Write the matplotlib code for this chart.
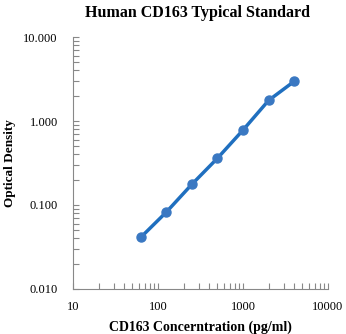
import numpy as np
import matplotlib
matplotlib.use('Agg')
import matplotlib.pyplot as plt
from matplotlib.ticker import FixedLocator, LogLocator, NullFormatter

# DATA
conc = [62.5, 125, 250, 500, 1000, 2000, 4000]
od = [0.041, 0.082, 0.176, 0.36, 0.78, 1.76, 2.97]
xticks = [10, 100, 1000, 10000]
yticks = [0.01, 0.1, 1, 10]
ylabels = ['0.010', '0.100', '1.000', '10.000']

plt.rcParams['font.family'] = ['Liberation Serif', 'DejaVu Serif']

fig = plt.figure(figsize=(3.46, 3.34), dpi=100)
ax = fig.add_axes([0.211, 0.135, 0.737, 0.754])

ax.plot(conc, od, color='#1f6fbf', lw=2.5, zorder=2)
ax.plot(conc, od, 'o', color='#3a78c2', ms=6.5, zorder=3)

ax.set_xscale('log')
ax.set_yscale('log')
ax.set_xlim(10, 10000)
ax.set_ylim(0.01, 10)

ax.xaxis.set_major_locator(FixedLocator(xticks))
ax.set_xticklabels([str(t) for t in xticks])
ax.yaxis.set_major_locator(FixedLocator(yticks))
ax.set_yticklabels(ylabels)
for a in (ax.xaxis, ax.yaxis):
  a.set_minor_locator(LogLocator(base=10, subs=np.arange(2, 10)))
  a.set_minor_formatter(NullFormatter())

ax.tick_params(which='both', direction='in', color='#888888', labelsize=9, width=0.8, length=4)
ax.tick_params(axis='x', pad=9)
ax.tick_params(axis='y', pad=11)

for s in ['top', 'right']:
  ax.spines[s].set_visible(False)
for s in ['left', 'bottom']:
  ax.spines[s].set_color('#888888')

fig.text(0.572, 0.962, 'Human CD163 Typical Standard', ha='center', va='center',
         fontsize=11.5, fontweight='bold')
ax.set_xlabel('CD163 Concerntration (pg/ml)', fontsize=10, fontweight='bold')
ax.xaxis.set_label_coords(0.5, -0.126)
ax.set_ylabel('Optical Density', fontsize=9.5, fontweight='bold')
ax.yaxis.set_label_coords(-0.222, 0.5)

fig.savefig('out.png', dpi=100)
